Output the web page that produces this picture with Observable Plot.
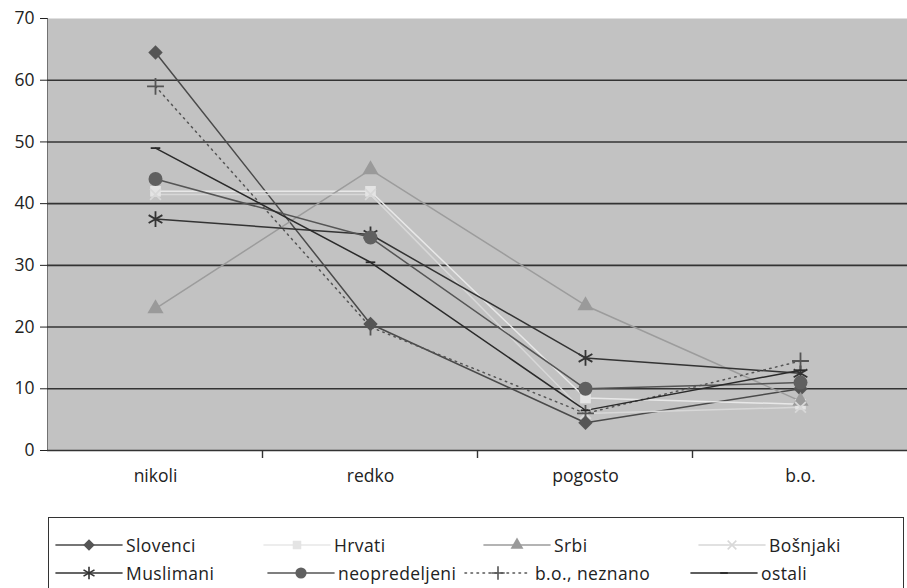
<!DOCTYPE html>
<html>
<head>
<meta charset="utf-8">
<script src="https://cdn.jsdelivr.net/npm/d3@7"></script>
<script src="https://cdn.jsdelivr.net/npm/@observablehq/plot@0.6"></script>
<style>
  html, body { margin: 0; padding: 0; background: #fff; }
  #wrap { width: 907px; height: 588px; position: relative; overflow: hidden; font-family: "Open Sans", sans-serif; }
  #legend { position: absolute; left: 48px; top: 517px; width: 856px; height: 80px; border: 1.2px solid #333; box-sizing: border-box; }
  .lrow { display: flex; height: 28px; align-items: center; padding-left: 5px; }
  .lrow:first-child { margin-top: 13px; }
  .litem { display: flex; align-items: center; font-size: 17.5px; letter-spacing: 0.4px; color: #222; }
  .litem svg { flex: none; margin-right: 2px; }
</style>
</head>
<body>
<div id="wrap">
  <div id="chart"></div>
  <div id="legend"></div>
</div>
<script>
const categories = ["nikoli", "redko", "pogosto", "b.o."];
const yTicks = [0, 10, 20, 30, 40, 50, 60, 70];
const gridTicks = [10, 20, 30, 40, 50, 60];

const seriesNames = ["Slovenci", "Hrvati", "Srbi", "Bošnjaki", "Muslimani", "neopredeljeni", "b.o., neznano", "ostali"];
const slovenci      = [64.5, 20.5, 4.5, 10];
const hrvati        = [42, 42, 8.5, 7.5];
const srbi          = [23, 45.5, 23.5, 8];
const bosnjaki      = [41.5, 41.5, 6, 7];
const muslimani     = [37.5, 35, 15, 12.5];
const neopredeljeni = [44, 34.5, 10, 11];
const boNeznano     = [59, 20, 6, 14.5];
const ostali        = [49, 30.5, 6.5, 13];
const seriesValues = [slovenci, hrvati, srbi, bosnjaki, muslimani, neopredeljeni, boNeznano, ostali];

// custom short-dash symbol for "ostali"
const dashSymbol = { draw(ctx, size) { const w = Math.sqrt(size) * 0.9, h = 1.8; ctx.rect(-w / 2, -h / 2, w, h); } };

const styles = [
  { stroke: "#4a4a4a", symbol: "diamond2", fill: "#555", dotStroke: "none", r: 6.5 },
  { stroke: "#e8e8e8", symbol: "square", fill: "#e4e4e4", dotStroke: "none", r: 6 },
  { stroke: "#9c9c9c", symbol: "triangle", fill: "#9a9a9a", dotStroke: "none", r: 6 },
  { stroke: "#d8d8d8", symbol: "times", fill: "none", dotStroke: "#d8d8d8", r: 5 },
  { stroke: "#333", symbol: "asterisk", fill: "none", dotStroke: "#333", r: 7.5 },
  { stroke: "#555", symbol: "circle", fill: "#606060", dotStroke: "none", r: 7 },
  { stroke: "#555", symbol: "plus", fill: "none", dotStroke: "#555", r: 5.5, dash: "1.5,4.5" },
  { stroke: "#2a2a2a", symbol: dashSymbol, fill: "#2a2a2a", dotStroke: "none", r: 6 }
];
const legendWidths = [[208, 220, 215, 200], [212, 197, 226, 200]];

const data = [];
seriesNames.forEach((s, i) => categories.forEach((c, j) => data.push({ series: s, cat: c, value: seriesValues[i][j] })));

const marks = [
  Plot.frame({ fill: "#c2c2c2", stroke: "none" }),
  Plot.ruleY(gridTicks, { stroke: "#333", strokeWidth: 1.6 }),
  Plot.ruleY([0], { stroke: "#333", strokeWidth: 1.4 })
];
seriesNames.forEach((s, i) => {
  const st = styles[i];
  const d = data.filter(e => e.series === s);
  marks.push(Plot.line(d, { x: "cat", y: "value", stroke: st.stroke, strokeWidth: 1.5, strokeDasharray: st.dash, strokeLinecap: "round" }));
});
seriesNames.forEach((s, i) => {
  const st = styles[i];
  const d = data.filter(e => e.series === s);
  marks.push(Plot.dot(d, { x: "cat", y: "value", symbol: st.symbol, r: st.r, fill: st.fill, stroke: st.dotStroke, strokeWidth: 1.8 }));
});

const chart = Plot.plot({
  width: 907,
  height: 500,
  marginLeft: 47,
  marginRight: 0,
  marginTop: 18,
  marginBottom: 50,
  style: { fontFamily: "Open Sans, sans-serif", fontSize: "17.5px", color: "#222", background: "#fff", overflow: "visible" },
  x: { type: "point", domain: categories, padding: 0.5, label: null, tickSize: 0, tickPadding: 19 },
  y: { domain: [0, 70], ticks: yTicks, label: null, tickSize: 7, tickPadding: 6, line: true },
  marks
});
document.getElementById("chart").appendChild(chart);

// axis tick marks between categories, derived from the x scale
const xs = chart.scale("x");
const ys = chart.scale("y");
const step = xs.apply(categories[1]) - xs.apply(categories[0]);
const y0 = ys.apply(0);
const svg = d3.select(chart);
categories.slice(1).forEach(c => {
  const px = xs.apply(c) - step / 2;
  svg.append("line").attr("x1", px).attr("x2", px).attr("y1", y0).attr("y2", y0 + 8).attr("stroke", "#333").attr("stroke-width", 1.4);
});

// legend
const symbolMap = { diamond2: d3.symbolDiamond2, square: d3.symbolSquare, triangle: d3.symbolTriangle, times: d3.symbolTimes, asterisk: d3.symbolAsterisk, circle: d3.symbolCircle, plus: d3.symbolPlus };
const legend = d3.select("#legend");
const rows = [seriesNames.slice(0, 4), seriesNames.slice(4, 8)];
rows.forEach((row, ri) => {
  const r = legend.append("div").attr("class", "lrow");
  row.forEach((name, ci) => {
    const i = ri * 4 + ci;
    const st = styles[i];
    const item = r.append("div").attr("class", "litem").style("width", legendWidths[ri][ci] + "px");
    const s = item.append("svg").attr("width", 70).attr("height", 20);
    s.append("line").attr("x1", 2).attr("x2", 68).attr("y1", 10).attr("y2", 10)
      .attr("stroke", st.stroke).attr("stroke-width", 1.6)
      .attr("stroke-dasharray", st.dash || null).attr("stroke-linecap", "round");
    const symType = typeof st.symbol === "string" ? symbolMap[st.symbol] : st.symbol;
    const rr = st.r * 0.8;
    s.append("path").attr("transform", "translate(35,10)")
      .attr("d", d3.symbol(symType, Math.PI * rr * rr)())
      .attr("fill", st.fill).attr("stroke", st.dotStroke).attr("stroke-width", 1.6);
    item.append("span").text(name);
  });
});
</script>
</body>
</html>
